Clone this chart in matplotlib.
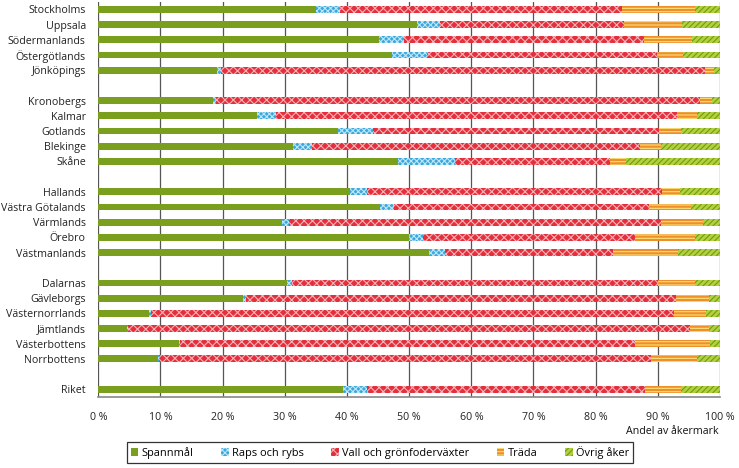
import matplotlib.pyplot as plt
import numpy as np

plt.rcParams['font.family'] = ['Open Sans', 'DejaVu Sans']
plt.rcParams['hatch.linewidth'] = 0.8

# Counties (top to bottom), None = empty gap row
regions = ['Stockholms', 'Uppsala', 'Södermanlands', 'Östergötlands', 'Jönköpings', None,
           'Kronobergs', 'Kalmar', 'Gotlands', 'Blekinge', 'Skåne', None,
           'Hallands', 'Västra Götalands', 'Värmlands', 'Örebro', 'Västmanlands', None,
           'Dalarnas', 'Gävleborgs', 'Västernorrlands', 'Jämtlands', 'Västerbottens', 'Norrbottens', None,
           'Riket']

# Shares of arable land, percent (one value per non-empty row)
spannmal = [35.0, 51.2, 45.2, 47.3, 19.1,
            18.5, 25.5, 38.6, 31.3, 48.2,
            40.5, 45.3, 29.5, 50.0, 53.2,
            30.3, 23.3, 8.1, 4.6, 13.0, 9.6,
            39.4]
raps = [3.9, 3.8, 3.9, 5.6, 0.6,
        0.4, 3.1, 5.6, 3.0, 9.2,
        2.7, 2.3, 1.1, 2.3, 2.6,
        0.8, 0.5, 0.3, 0.1, 0.2, 0.2,
        3.8]
vall = [45.3, 29.6, 38.7, 36.9, 77.9,
        77.9, 64.5, 46.0, 52.9, 24.9,
        47.4, 41.0, 59.9, 34.1, 27.0,
        59.0, 69.1, 84.2, 90.5, 73.2, 79.1,
        44.8]
trada = [11.7, 9.3, 7.7, 4.2, 1.4,
         1.9, 3.2, 3.6, 3.3, 2.6,
         3.0, 6.8, 6.7, 9.5, 10.5,
         5.8, 5.3, 5.1, 3.0, 12.0, 7.4,
         5.7]
ovrig = [4.1, 6.1, 4.5, 6.0, 1.0,
         1.3, 3.7, 6.2, 9.5, 15.1,
         6.4, 4.6, 2.8, 4.1, 6.7,
         4.1, 1.8, 2.3, 1.8, 1.6, 3.7,
         6.3]

series = [
    ('Spannmål', spannmal, '#7a9e1e', '#7a9e1e', None),
    ('Raps och rybs', raps, '#3aa8dc', '#bfe6f7', 'xxxxxx'),
    ('Vall och grönfoderväxter', vall, '#e3303c', '#f5b3b8', 'xxxx'),
    ('Träda', trada, '#ef8f2a', '#f8e07a', '-----'),
    ('Övrig åker', ovrig, '#b3d13a', '#6f9a1a', '//////'),
]

ypos = np.array([i for i, r in enumerate(regions) if r is not None])
labels = [r for r in regions if r is not None]

fig = plt.figure(figsize=(7.39, 4.68), dpi=100)
ax = fig.add_axes([0.133, 0.152, 0.8413, 0.844])

left = np.zeros(len(labels))
for name, vals, fc, hc, hatch in series:
    vals = np.array(vals)
    ax.barh(ypos, vals, left=left, height=0.45, color=fc, edgecolor=hc,
            linewidth=0, hatch=hatch, label=name, zorder=3)
    left += vals

ax.set_xlim(0, 100)
ax.set_ylim(len(regions) - 0.5, -0.5)
ax.set_yticks(ypos)
ax.set_yticklabels(labels, fontsize=7.7, color='#222222')
ax.set_xticks(np.arange(0, 101, 10))
ax.set_xticklabels([f'{v} %' for v in range(0, 101, 10)], fontsize=7.7, color='#222222')
ax.tick_params(axis='both', length=0)
ax.tick_params(axis='y', pad=9)
ax.tick_params(axis='x', pad=11)
ax.grid(axis='x', color='#555555', linewidth=0.9, zorder=0)
for s in ['top', 'right', 'left']:
    ax.spines[s].set_visible(False)
ax.spines['bottom'].set_color('#888888')
ax.spines['bottom'].set_linewidth(1.2)

fig.text(0.973, 0.079, 'Andel av åkermark', ha='right', va='center', fontsize=7.7, color='#111111')

leg = fig.legend(loc='center', bbox_to_anchor=(0.514, 0.033), ncol=5, fontsize=7.9,
                 frameon=True, fancybox=False, edgecolor='black', handlelength=0.7,
                 handleheight=0.7, handletextpad=0.3, columnspacing=2.5,
                 borderpad=0.35)
leg.get_frame().set_linewidth(0.9)

plt.savefig('out.png', dpi=100)
plt.close()
